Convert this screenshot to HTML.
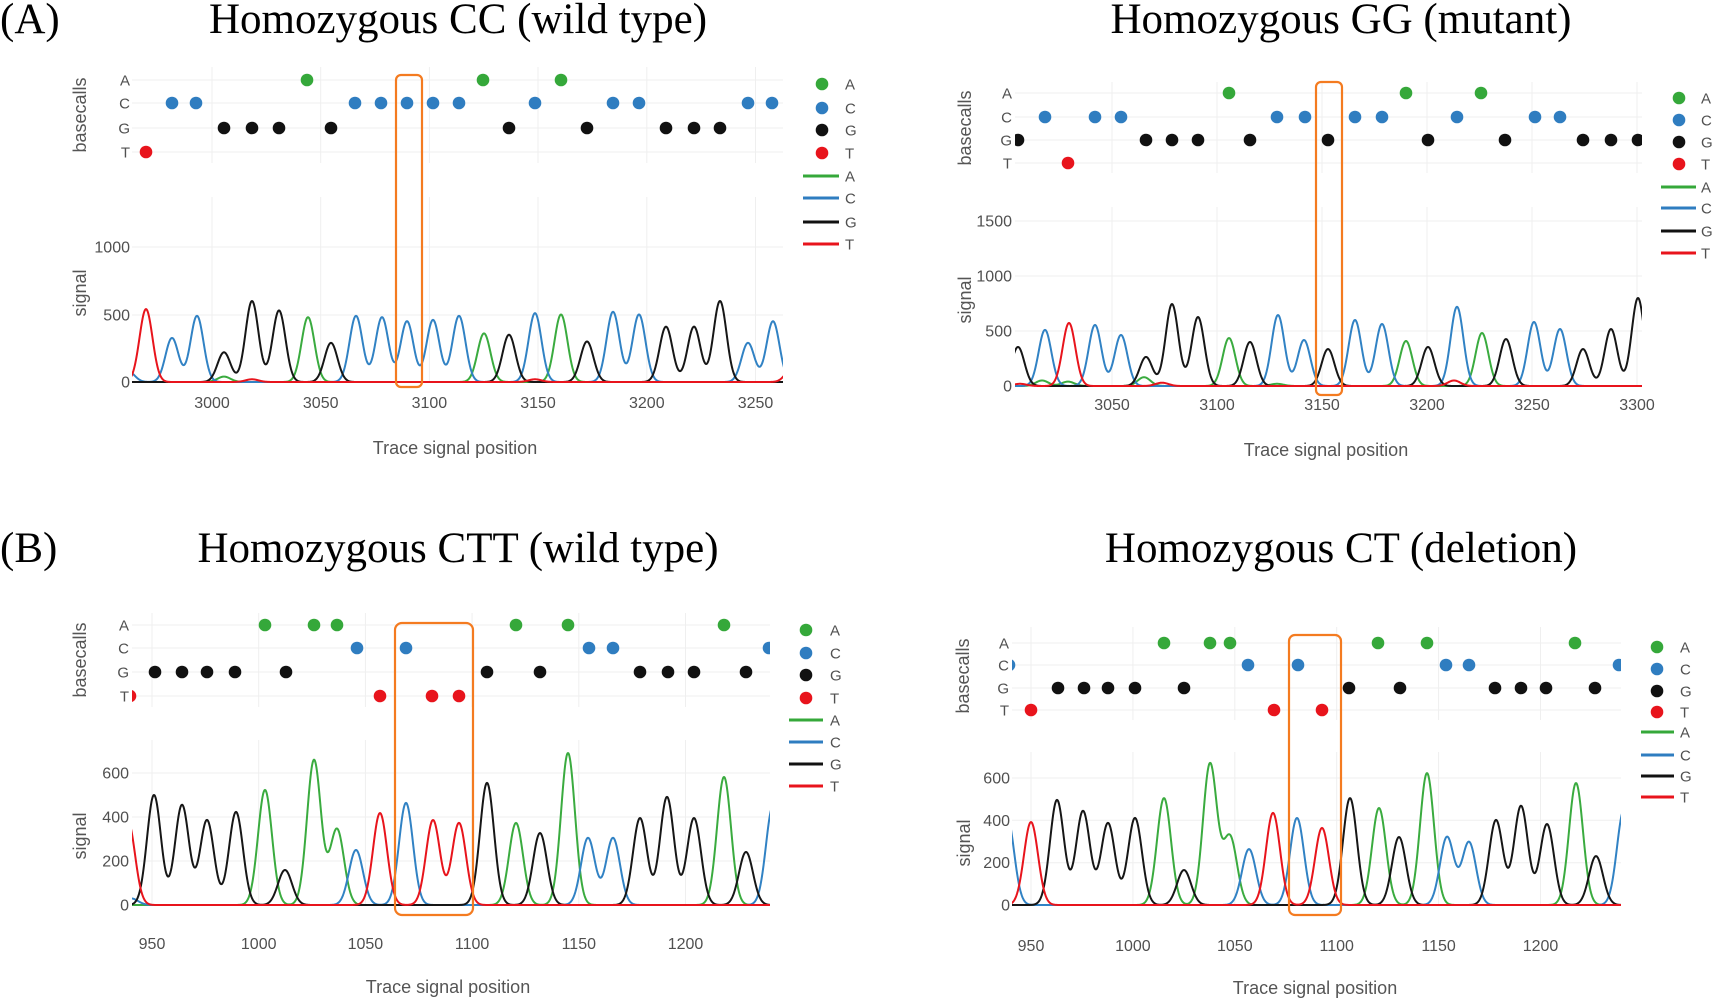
<!DOCTYPE html>
<html><head><meta charset="utf-8">
<style>
html,body{margin:0;padding:0;background:#fff;}
svg{display:block;}
.t{font-family:"Liberation Serif",serif;font-size:43px;fill:#000;}
.tk{font-family:"Liberation Sans",sans-serif;font-size:16px;fill:#505050;}
.rl{font-family:"Liberation Sans",sans-serif;font-size:15px;fill:#505050;}
.ax{font-family:"Liberation Sans",sans-serif;font-size:18px;fill:#555;}
</style></head><body>
<svg id="s" width="1713" height="999" viewBox="0 0 1713 999" xmlns="http://www.w3.org/2000/svg">
<rect x="0" y="0" width="1713" height="999" fill="#fff"/>
<defs id="defs"></defs>
<g id="grid"></g>
<g id="traces"></g>

<!-- Orange boxes -->
<g fill="none" stroke="#f47b20" stroke-width="2.2">
<rect x="396" y="75" width="26" height="312" rx="5"/>
<rect x="1316" y="82" width="26" height="313" rx="5"/>
<rect x="395" y="623" width="78" height="292" rx="7"/>
<rect x="1289" y="635" width="52" height="280" rx="6"/>
</g>

<!-- Titles -->
<text class="t" x="0" y="33">(A)</text>
<text class="t" x="458" y="33" text-anchor="middle">Homozygous CC (wild type)</text>
<text class="t" x="1341" y="33" text-anchor="middle">Homozygous GG (mutant)</text>
<text class="t" x="0" y="562">(B)</text>
<text class="t" x="458" y="562" text-anchor="middle">Homozygous CTT (wild type)</text>
<text class="t" x="1341" y="562" text-anchor="middle">Homozygous CT (deletion)</text>

<!-- Panel A -->
<g class="rl" text-anchor="end">
<text x="130" y="85.5">A</text><text x="130" y="108.5">C</text><text x="130" y="133.5">G</text><text x="130" y="157.5">T</text>
</g>
<text class="ax" text-anchor="middle" transform="translate(86,115) rotate(-90)">basecalls</text>
<text class="ax" text-anchor="middle" transform="translate(86,293) rotate(-90)">signal</text>
<g class="tk" text-anchor="end">
<text x="130" y="387.5">0</text><text x="130" y="320.5">500</text><text x="130" y="252.5">1000</text>
</g>
<g class="tk" text-anchor="middle">
<text x="212" y="408">3000</text><text x="320.7" y="408">3050</text><text x="429.4" y="408">3100</text><text x="538" y="408">3150</text><text x="646.8" y="408">3200</text><text x="755.5" y="408">3250</text>
</g>
<text class="ax" x="455" y="454" text-anchor="middle">Trace signal position</text>
<g>
<circle cx="822" cy="84" r="6.3" fill="#35a83a"/><circle cx="822" cy="108" r="6.3" fill="#2f7dc0"/><circle cx="822" cy="130" r="6.3" fill="#111"/><circle cx="822" cy="153" r="6.3" fill="#e8141c"/>
<line x1="803" x2="839" y1="176" y2="176" stroke="#35a83a" stroke-width="3"/>
<line x1="803" x2="839" y1="198" y2="198" stroke="#2f7dc0" stroke-width="3"/>
<line x1="803" x2="839" y1="222" y2="222" stroke="#111" stroke-width="3"/>
<line x1="803" x2="839" y1="244" y2="244" stroke="#e8141c" stroke-width="3"/>
</g>
<g class="rl">
<text x="845" y="89.5">A</text><text x="845" y="113.5">C</text><text x="845" y="135.5">G</text><text x="845" y="158.5">T</text>
<text x="845" y="181.5">A</text><text x="845" y="203.5">C</text><text x="845" y="227.5">G</text><text x="845" y="249.5">T</text>
</g>

<!-- Panel TR -->
<g class="rl" text-anchor="end">
<text x="1012" y="98.5">A</text><text x="1012" y="122.5">C</text><text x="1012" y="145.5">G</text><text x="1012" y="168.5">T</text>
</g>
<text class="ax" text-anchor="middle" transform="translate(971,128) rotate(-90)">basecalls</text>
<text class="ax" text-anchor="middle" transform="translate(971,300) rotate(-90)">signal</text>
<g class="tk" text-anchor="end">
<text x="1012" y="391.5">0</text><text x="1012" y="336.5">500</text><text x="1012" y="281.5">1000</text><text x="1012" y="226.5">1500</text>
</g>
<g class="tk" text-anchor="middle">
<text x="1112" y="410">3050</text><text x="1217" y="410">3100</text><text x="1322" y="410">3150</text><text x="1427" y="410">3200</text><text x="1532" y="410">3250</text><text x="1637" y="410">3300</text>
</g>
<text class="ax" x="1326" y="456" text-anchor="middle">Trace signal position</text>
<g>
<circle cx="1679" cy="98" r="6.3" fill="#35a83a"/><circle cx="1679" cy="120" r="6.3" fill="#2f7dc0"/><circle cx="1679" cy="142" r="6.3" fill="#111"/><circle cx="1679" cy="164" r="6.3" fill="#e8141c"/>
<line x1="1661" x2="1696" y1="187" y2="187" stroke="#35a83a" stroke-width="3"/>
<line x1="1661" x2="1696" y1="208" y2="208" stroke="#2f7dc0" stroke-width="3"/>
<line x1="1661" x2="1696" y1="231" y2="231" stroke="#111" stroke-width="3"/>
<line x1="1661" x2="1696" y1="253" y2="253" stroke="#e8141c" stroke-width="3"/>
</g>
<g class="rl">
<text x="1701" y="103.5">A</text><text x="1701" y="125.5">C</text><text x="1701" y="147.5">G</text><text x="1701" y="169.5">T</text>
<text x="1701" y="192.5">A</text><text x="1701" y="213.5">C</text><text x="1701" y="236.5">G</text><text x="1701" y="258.5">T</text>
</g>

<!-- Panel BL -->
<g class="rl" text-anchor="end">
<text x="129" y="630.5">A</text><text x="129" y="653.5">C</text><text x="129" y="677.5">G</text><text x="129" y="701.5">T</text>
</g>
<text class="ax" text-anchor="middle" transform="translate(86,660) rotate(-90)">basecalls</text>
<text class="ax" text-anchor="middle" transform="translate(86,836) rotate(-90)">signal</text>
<g class="tk" text-anchor="end">
<text x="129" y="910.5">0</text><text x="129" y="866.5">200</text><text x="129" y="822.5">400</text><text x="129" y="778.5">600</text>
</g>
<g class="tk" text-anchor="middle">
<text x="152" y="949">950</text><text x="258.7" y="949">1000</text><text x="365.4" y="949">1050</text><text x="472.1" y="949">1100</text><text x="578.8" y="949">1150</text><text x="685.5" y="949">1200</text>
</g>
<text class="ax" x="448" y="993" text-anchor="middle">Trace signal position</text>
<g>
<circle cx="806" cy="630" r="6.3" fill="#35a83a"/><circle cx="806" cy="653" r="6.3" fill="#2f7dc0"/><circle cx="806" cy="675" r="6.3" fill="#111"/><circle cx="806" cy="698" r="6.3" fill="#e8141c"/>
<line x1="789" x2="823" y1="720" y2="720" stroke="#35a83a" stroke-width="3"/>
<line x1="789" x2="823" y1="742" y2="742" stroke="#2f7dc0" stroke-width="3"/>
<line x1="789" x2="823" y1="764" y2="764" stroke="#111" stroke-width="3"/>
<line x1="789" x2="823" y1="786" y2="786" stroke="#e8141c" stroke-width="3"/>
</g>
<g class="rl">
<text x="830" y="635.5">A</text><text x="830" y="658.5">C</text><text x="830" y="680.5">G</text><text x="830" y="703.5">T</text>
<text x="830" y="725.5">A</text><text x="830" y="747.5">C</text><text x="830" y="769.5">G</text><text x="830" y="791.5">T</text>
</g>

<!-- Panel BR -->
<g class="rl" text-anchor="end">
<text x="1009" y="648.5">A</text><text x="1009" y="670.5">C</text><text x="1009" y="693.5">G</text><text x="1009" y="715.5">T</text>
</g>
<text class="ax" text-anchor="middle" transform="translate(969,676) rotate(-90)">basecalls</text>
<text class="ax" text-anchor="middle" transform="translate(970,843) rotate(-90)">signal</text>
<g class="tk" text-anchor="end">
<text x="1010" y="910.5">0</text><text x="1010" y="868.2">200</text><text x="1010" y="825.8">400</text><text x="1010" y="783.5">600</text>
</g>
<g class="tk" text-anchor="middle">
<text x="1031" y="951">950</text><text x="1132.9" y="951">1000</text><text x="1234.8" y="951">1050</text><text x="1336.7" y="951">1100</text><text x="1438.6" y="951">1150</text><text x="1540.5" y="951">1200</text>
</g>
<text class="ax" x="1315" y="994" text-anchor="middle">Trace signal position</text>
<g>
<circle cx="1657" cy="647" r="6.3" fill="#35a83a"/><circle cx="1657" cy="669" r="6.3" fill="#2f7dc0"/><circle cx="1657" cy="691" r="6.3" fill="#111"/><circle cx="1657" cy="712" r="6.3" fill="#e8141c"/>
<line x1="1641" x2="1674" y1="732" y2="732" stroke="#35a83a" stroke-width="3"/>
<line x1="1641" x2="1674" y1="755" y2="755" stroke="#2f7dc0" stroke-width="3"/>
<line x1="1641" x2="1674" y1="776" y2="776" stroke="#111" stroke-width="3"/>
<line x1="1641" x2="1674" y1="797" y2="797" stroke="#e8141c" stroke-width="3"/>
</g>
<g class="rl">
<text x="1680" y="652.5">A</text><text x="1680" y="674.5">C</text><text x="1680" y="696.5">G</text><text x="1680" y="717.5">T</text>
<text x="1680" y="737.5">A</text><text x="1680" y="760.5">C</text><text x="1680" y="781.5">G</text><text x="1680" y="802.5">T</text>
</g>
</svg>
<script>
(function(){
const NS='http://www.w3.org/2000/svg';
const COL={A:'#3aab3f',C:'#3182c4',G:'#161616',T:'#e8141c'};
const DOT={A:'#35a83a',C:'#2f7dc0',G:'#111111',T:'#e8141c'};
const P=[
{l:132,r:783,y0:382,k:0.135,s:6.5,
 rows:{A:80,C:103,G:128,T:152},bt:67,bb:163,st:197,
 vx:[212,320.7,429.4,538,646.8,755.5],hy:[315,247],
 dots:{T:[146],C:[172,196,355,381,407,433,459,535,613,639,748,772],G:[224,252,279,331,509,587,666,694,720],A:[307,483,561]},
 peaks:{A:[[224,40],[308,480],[484,360],[561,500]],
  C:[[128,80],[172,326],[197,490],[356,490],[382,480],[407,450],[433,460],[459,490],[535,510],[613,520],[639,500],[748,290],[773,450]],
  G:[[224,220],[252,600],[279,530],[331,290],[509,350],[587,300],[666,410],[694,410],[720,600]],
  T:[[146,540],[252,20],[535,20],[792,100]]}},
{l:1015,r:1642,y0:386,k:0.11,s:6.4,
 rows:{A:93,C:117,G:140,T:163},bt:82,bb:173,st:207,
 vx:[1112,1217,1322,1427,1532,1637],hy:[331,276,221],
 dots:{G:[1018,1146,1172,1198,1250,1328,1428,1505,1583,1611,1638],C:[1045,1095,1121,1277,1305,1355,1382,1457,1535,1560],T:[1068],A:[1229,1406,1481]},
 peaks:{A:[[1042,50],[1068,40],[1144,80],[1229,436],[1277,20],[1406,409],[1482,482]],
  C:[[1045,510],[1095,555],[1121,464],[1278,645],[1304,418],[1355,600],[1382,564],[1457,720],[1534,582],[1560,518]],
  G:[[1018,355],[1146,264],[1172,745],[1198,627],[1250,400],[1328,336],[1428,355],[1506,427],[1583,336],[1611,518],[1638,800]],
  T:[[1020,20],[1069,573],[1162,30],[1454,50]]}},
{l:132,r:770,y0:905,k:0.22,s:7,
 rows:{A:625,C:648,G:672,T:696},bt:613,bb:707,st:740,
 vx:[152,258.7,365.4,472.1,578.8,685.5],hy:[861,817,773],
 dots:{T:[130,380,432,459],G:[155,182,207,235,286,487,540,640,668,694,746],C:[357,406,589,613,769],A:[265,314,337,516,568,724]},
 peaks:{A:[[265,523],[314,659],[337,345],[516,373],[568,691],[724,582]],
  C:[[131,30],[356,250],[406,464],[588,305],[613,305],[773,450]],
  G:[[154,500],[182,455],[207,386],[236,423],[285,159],[487,555],[540,327],[640,395],[667,491],[694,395],[746,241]],
  T:[[128,380],[380,418],[433,386],[459,373]]}},
{l:1012,r:1621,y0:905,k:0.2117,s:7,
 rows:{A:643,C:665,G:688,T:710},bt:627,bb:720,st:752,
 vx:[1031,1132.9,1234.8,1336.7,1438.6,1540.5],hy:[862.7,820.3,778],
 dots:{T:[1031,1274,1322],G:[1058,1084,1108,1135,1184,1349,1400,1495,1521,1546,1595],C:[1009,1248,1298,1446,1469,1619],A:[1164,1210,1230,1378,1427,1575]},
 peaks:{A:[[1164,505],[1210,666],[1230,321],[1379,458],[1427,623],[1576,576]],
  C:[[1007,420],[1249,264],[1297,411],[1447,321],[1469,297],[1624,450]],
  G:[[1057,496],[1083,444],[1108,387],[1135,411],[1184,165],[1350,505],[1399,321],[1496,401],[1521,468],[1547,382],[1596,231]],
  T:[[1031,392],[1273,435],[1322,364]]}}
];
const gg=document.getElementById('grid'),gt=document.getElementById('traces'),defs=document.getElementById('defs');
function el(tag,attrs,parent){const e=document.createElementNS(NS,tag);for(const k in attrs)e.setAttribute(k,attrs[k]);parent.appendChild(e);return e;}
const K=['A','C','G','T'];
P.forEach(function(p,i){
  K.forEach(function(k){el('line',{x1:p.l,x2:p.r,y1:p.rows[k],y2:p.rows[k],stroke:'#efefef','stroke-width':1},gg);});
  p.vx.forEach(function(x){
    el('line',{x1:x,x2:x,y1:p.bt,y2:p.bb,stroke:'#efefef','stroke-width':1},gg);
    el('line',{x1:x,x2:x,y1:p.st,y2:p.y0,stroke:'#efefef','stroke-width':1},gg);
  });
  p.hy.forEach(function(y){el('line',{x1:p.l,x2:p.r,y1:y,y2:y,stroke:'#efefef','stroke-width':1},gg);});
  const cp=el('clipPath',{id:'c'+i},defs);
  el('rect',{x:p.l,y:0,width:p.r-p.l,height:999},cp);
  const g=el('g',{'clip-path':'url(#c'+i+')'},gt);
  const s2=2*p.s*p.s;
  K.forEach(function(k){
    let d='';const pk=p.peaks[k];
    for(let x=p.l-1;x<=p.r+1.01;x+=0.5){
      let v=0;
      for(let j=0;j<pk.length;j++){const dx=x-pk[j][0];if(Math.abs(dx)<45)v+=pk[j][1]*Math.exp(-dx*dx/s2);}
      const y=p.y0-v*p.k;
      d+=(d?'L':'M')+x.toFixed(1)+','+y.toFixed(2);
    }
    el('path',{d:d,fill:'none',stroke:COL[k],'stroke-width':2,'stroke-linejoin':'round'},g);
  });
  K.forEach(function(k){p.dots[k].forEach(function(x){el('circle',{cx:x,cy:p.rows[k],r:6.3,fill:DOT[k]},g);});});
});
})();
</script>
</body></html>
